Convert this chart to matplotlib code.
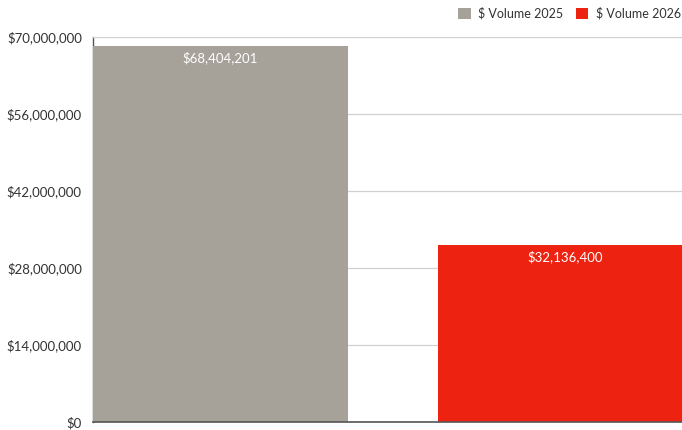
import matplotlib
matplotlib.use("Agg")
import matplotlib.pyplot as plt
from matplotlib.patches import Patch

series = ["$ Volume 2025", "$ Volume 2026"]
values = [68404201, 32136400]
colors = ["#a6a199", "#ee2210"]
yticks = [0, 14000000, 28000000, 42000000, 56000000, 70000000]

plt.rcParams['font.family'] = ['Lato', 'DejaVu Sans']

fig = plt.figure(figsize=(6.82, 4.30), dpi=100)
ax = fig.add_axes([93/682, 8/430, 589/682, 385/430])

w = 0.739
xs = [0, 1]
bars = ax.bar(xs, values, width=w, color=colors, zorder=3)
for x, v in zip(xs, values):
    ax.text(x, v - 1000000, "\\$" + f"{v:,}", ha="center", va="top",
            color="white", fontsize=9.5, zorder=4)

ax.set_xlim(-w/2, 1.338)
ax.set_ylim(0, 70000000)
ax.set_yticks(yticks)
ax.set_yticklabels(["\\$" + f"{t:,}" for t in yticks], fontsize=9.5, color="#333333")
ax.set_xticks([])
ax.tick_params(axis='y', length=0, pad=8)
ax.grid(axis='y', color="#d0d0d0", linewidth=0.9, zorder=0)
ax.set_axisbelow(False)
for s in ["top", "right"]:
    ax.spines[s].set_visible(False)
ax.spines["left"].set_color("#555555")
ax.spines["bottom"].set_color("#555555")
ax.spines["left"].set_linewidth(1.0)
ax.spines["bottom"].set_linewidth(1.2)
ax.spines["left"].set_zorder(1)
ax.spines["bottom"].set_zorder(5)
for gl in ax.get_ygridlines():
    gl.set_zorder(0.5)

handles = [Patch(facecolor=c, edgecolor='none') for c in colors]
labels = [s.replace("$", "\\$") for s in series]
fig.legend(handles, labels, loc="upper right", bbox_to_anchor=(1.015, 1.01), ncol=2,
           frameon=False, fontsize=9, handlelength=1.0, handleheight=1.0,
           handletextpad=0.6, columnspacing=1.0, labelcolor="#333333")

fig.savefig("out.png", dpi=100)
